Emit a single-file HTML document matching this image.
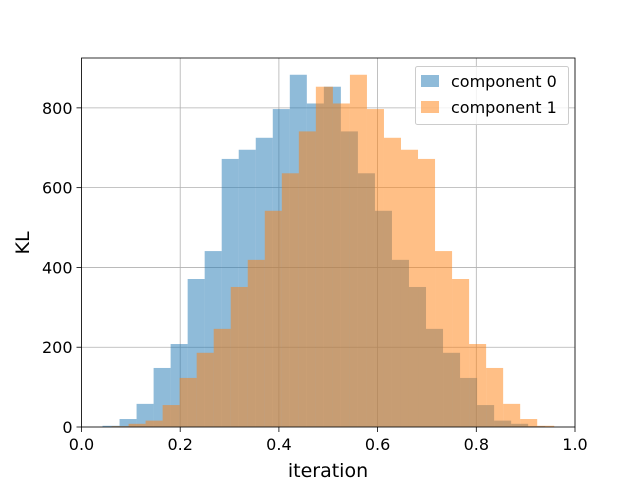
<!DOCTYPE html>
<html><head><meta charset="utf-8"><style>
body{margin:0;background:#fff}
text{font-family:"DejaVu Sans","Liberation Sans",sans-serif;fill:#000}
</style></head><body>
<svg id="chart" width="640" height="480" xmlns="http://www.w3.org/2000/svg">
<rect width="640" height="480" fill="#fff"/>
<g id="grid"></g>
<g id="bars"></g>
<g id="axes"></g>
<g id="legend">
  <rect x="415.5" y="66.5" width="153" height="58" fill="#fff" fill-opacity="0.8" stroke="#ccc" rx="2"/>
  <rect x="421" y="75" width="18" height="12" fill="#1f77b4" fill-opacity="0.5"/>
  <text x="451" y="87" font-size="16">component 0</text>
  <rect x="421" y="101" width="18" height="12" fill="#ff7f0e" fill-opacity="0.5"/>
  <text x="451" y="113" font-size="16">component 1</text>
</g>
<text x="328" y="477" font-size="19" text-anchor="middle">iteration</text>
<text transform="translate(29,243) rotate(-90)" font-size="19" text-anchor="middle">KL</text>
</svg>
<script>
const xTicks=[0,0.2,0.4,0.6,0.8,1.0];
const xTickLabels=["0.0","0.2","0.4","0.6","0.8","1.0"];
const yTicks=[0,200,400,600,800];
const yTickLabels=["0","200","400","600","800"];
const binWidth=0.0345;
const series0Start=0.0426;
const series0Values=[3,20,58,148,208,371,441,672,695,725,797,883,811,853,741,636,542,419,351,246,186,123,55,16,8,2];
const series1Start=0.0609;
const series1Values=[2,8,16,55,123,186,246,351,419,542,636,741,853,811,883,797,725,695,672,441,371,208,148,58,20,3];

const L=81.5,R=575,T=58,B=427,YMAX=925;
const sx=v=>L+(R-L)*v;
const sy=v=>B-(B-T)*v/YMAX;
const NS="http://www.w3.org/2000/svg";
function mk(tag,attrs,parent){const e=document.createElementNS(NS,tag);for(const k in attrs)e.setAttribute(k,attrs[k]);parent.appendChild(e);return e;}
const grid=document.getElementById('grid'),bars=document.getElementById('bars'),axes=document.getElementById('axes');
xTicks.forEach((t,i)=>{
  const g=mk('line',{x1:sx(t),x2:sx(t),y1:T,y2:B,stroke:'#b0b0b0','stroke-width':0.8},grid);
  
  
  const tk=mk('line',{x1:sx(t),x2:sx(t),y1:B,y2:B+5,stroke:'#000','stroke-width':0.8},axes);
  
  
  const tx=mk('text',{x:sx(t),y:B+23,'font-size':16,'text-anchor':'middle'},axes);
  tx.textContent=xTickLabels[i];
  
  
});
yTicks.forEach((t,i)=>{
  const g=mk('line',{x1:L,x2:R,y1:sy(t),y2:sy(t),stroke:'#b0b0b0','stroke-width':0.8},grid);
  
  
  const tk=mk('line',{x1:L-5,x2:L,y1:sy(t),y2:sy(t),stroke:'#000','stroke-width':0.8},axes);
  
  
  const tx=mk('text',{x:L-9,y:sy(t)+6,'font-size':16,'text-anchor':'end'},axes);
  tx.textContent=yTickLabels[i];
  
  
});
function drawSeries(start,vals,color,name){
  vals.forEach((v,i)=>{
    const x0=sx(start+i*binWidth),x1=sx(start+(i+1)*binWidth);
    const r=mk('rect',{x:x0,y:sy(v),width:x1-x0,height:B-sy(v),fill:color,'fill-opacity':0.5},bars);
    
    
  });
}
drawSeries(series0Start,series0Values,'#1f77b4','component-0');
drawSeries(series1Start,series1Values,'#ff7f0e','component-1');
const fr=mk('rect',{x:L,y:T,width:R-L,height:B-T,fill:'none',stroke:'#000','stroke-width':0.8},axes);


</script>
</body></html>
